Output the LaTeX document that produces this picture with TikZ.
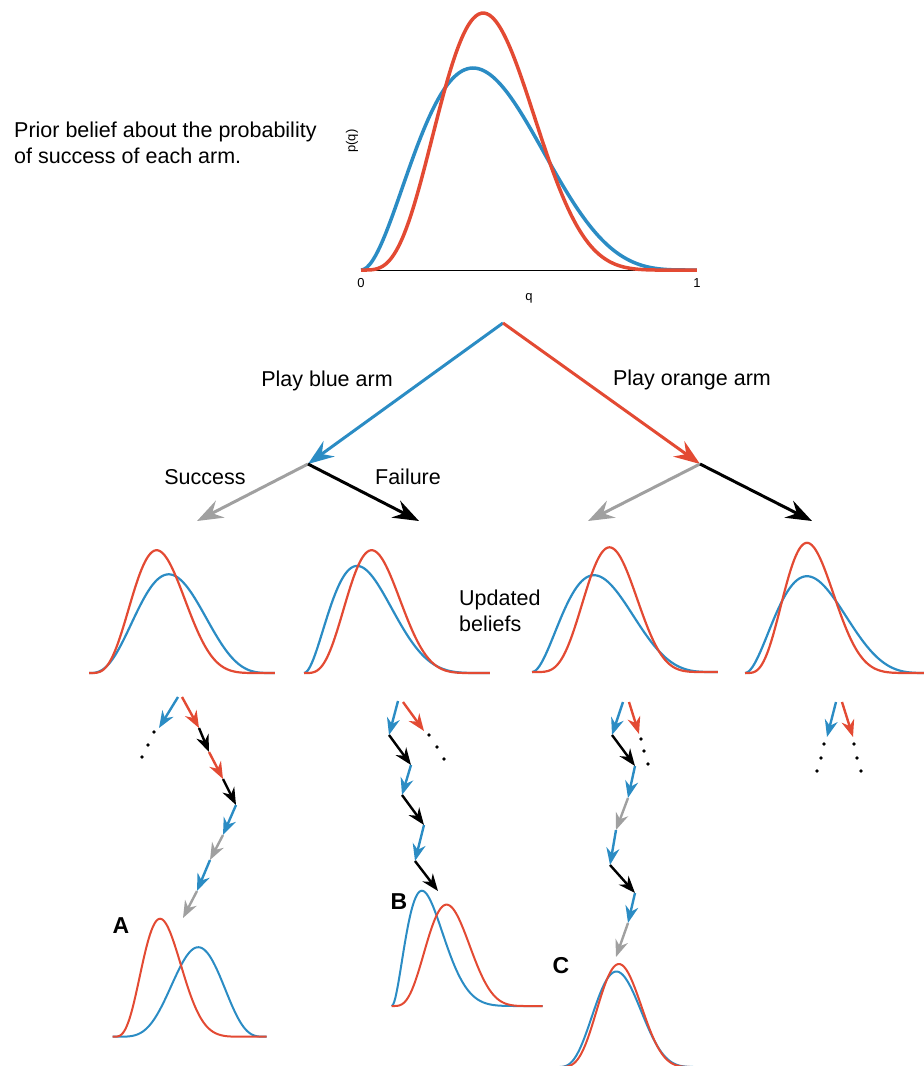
\documentclass[tikz,border=0pt]{standalone}
\usepackage{fontspec}
\setmainfont{Liberation Sans}
\usepackage{tikz}
\usetikzlibrary{arrows.meta}

\definecolor{armblue}{RGB}{43,140,196}
\definecolor{armred}{RGB}{227,74,51}
\definecolor{outgray}{RGB}{160,160,160}

% belief curve: colour, left, base, width, peak height, alpha-1, beta-1, line width
\newcommand{\belief}[8]{%
  \draw[#1, line width=#8] plot[domain=0:1, samples=121, smooth]
    ({#2+#4*\x}, {#3-#5*(\x*(#6+#7)/#6)^#6*((1-\x)*(#6+#7)/#7)^#7});
}

\begin{document}
\begin{tikzpicture}[x=1pt, y=-1pt,
  txt/.style={font=\fontsize{21.5}{26}\selectfont, align=left, inner sep=0pt},
  tick/.style={font=\fontsize{13}{15}\selectfont, inner sep=0pt},
  panel/.style={font=\fontsize{23}{26}\selectfont\bfseries, inner sep=0pt},
  branch/.style={line width=3pt, -{Stealth[length=26pt, width=19pt, inset=9pt]}},
  move/.style={line width=2.4pt, -{Stealth[length=17pt, width=13pt, inset=5.5pt]}},
  dot/.style={circle, fill=black, inner sep=0pt, minimum size=3.8pt}
]
\useasboundingbox (0,0) rectangle (924,1066);
\clip (0,0) rectangle (924,1066);

% Prior belief
\node[txt, anchor=west] (prior) at (14,143) {Prior belief about the probability\\of success of each arm.};
\coordinate (q0) at (361,270);
\coordinate (q1) at (697,270);
\draw[line width=1pt] (q0) -- (q1);
\node[tick] (tick0) at (361,283) {0};
\node[tick] (tick1) at (697,283) {1};
\node[tick] (xlab) at (529,298) {q};
\node[tick, rotate=90] (ylab) at (352,141) {p(q)};
\belief{armblue}{361}{270}{336}{202}{2}{4}{3.5pt}
\belief{armred}{361}{270}{336}{257}{4}{7}{3.5pt}

% First choice
\coordinate (root) at (503,323);
\coordinate (bluearm) at (308,464);
\coordinate (orangearm) at (700,464);
\draw[branch, armblue] (root) -- (bluearm);
\draw[branch, armred] (root) -- (orangearm);
\node[txt] (playblue) at (327,381) {Play blue arm};
\node[txt] (playorange) at (692,380) {Play orange arm};

% Outcomes
\coordinate (bsucc) at (197,521);
\coordinate (bfail) at (419,521);
\coordinate (osucc) at (588,521);
\coordinate (ofail) at (812,521);
\draw[branch, outgray] (bluearm) -- (bsucc);
\draw[branch, black] (bluearm) -- (bfail);
\draw[branch, outgray] (orangearm) -- (osucc);
\draw[branch, black] (orangearm) -- (ofail);
\node[txt] (success) at (205,477) {Success};
\node[txt] (failure) at (408,477) {Failure};

% Updated beliefs
\belief{armblue}{89}{673}{186}{98.7}{3}{4}{2.2pt}
\belief{armred}{89}{673}{186}{122.8}{4}{7}{2.2pt}
\belief{armblue}{304}{673}{186}{107.1}{2}{5}{2.2pt}
\belief{armred}{304}{673}{186}{122.8}{4}{7}{2.2pt}
\belief{armblue}{532}{672}{186}{96.8}{2}{4}{2.2pt}
\belief{armred}{532}{672}{186}{124.7}{5}{7}{2.2pt}
\belief{armblue}{745}{673}{186}{96.8}{2}{4}{2.2pt}
\belief{armred}{745}{673}{186}{130.2}{4}{8}{2.2pt}
\node[txt, anchor=west] (updated) at (459,611) {Updated\\beliefs};

% Path A
\foreach \n/\u/\v in {0/182/697, 1/199/728, 2/209/752, 3/223/779, 4/236/805,
                      5/223/835, 6/210/860, 7/197/891, 8/183/918}
  \coordinate (a\n) at (\u,\v);
\foreach \from/\to/\col in {0/1/armred, 1/2/black, 2/3/armred, 3/4/black,
                      4/5/armblue, 5/6/outgray, 6/7/armblue, 7/8/outgray}
  \draw[move, \col] (a\from) -- (a\to);
\coordinate (a0x) at (178,697);
\coordinate (a1x) at (159,728);
\draw[move, armblue] (a0x) -- (a1x);
\node[dot] (ad1) at (154,732) {};
\node[dot] (ad2) at (148,745) {};
\node[dot] (ad3) at (142,757) {};

% Path B
\foreach \n/\u/\v in {0/398/701, 1/389/735, 2/411/765, 3/402/795,
                      4/424/825, 5/415/861, 6/438/891}
  \coordinate (b\n) at (\u,\v);
\foreach \from/\to/\col in {0/1/armblue, 1/2/black, 2/3/armblue, 3/4/black, 4/5/armblue, 5/6/black}
  \draw[move, \col] (b\from) -- (b\to);
\coordinate (b0x) at (403,702);
\coordinate (b1x) at (424,731);
\draw[move, armred] (b0x) -- (b1x);
\node[dot] (bd1) at (429,735) {};
\node[dot] (bd2) at (437,747) {};
\node[dot] (bd3) at (444,759) {};

% Path C
\foreach \n/\u/\v in {0/623/702, 1/612/735, 2/635/766, 3/628/798, 4/616/830,
                      5/610/865, 6/635/893, 7/628/923, 8/616/957}
  \coordinate (c\n) at (\u,\v);
\foreach \from/\to/\col in {0/1/armblue, 1/2/black, 2/3/armblue, 3/4/outgray,
                      4/5/armblue, 5/6/black, 6/7/armblue, 7/8/outgray}
  \draw[move, \col] (c\from) -- (c\to);
\coordinate (c0x) at (629,702);
\coordinate (c1x) at (639,734);
\draw[move, armred] (c0x) -- (c1x);
\node[dot] (cd1) at (641,739) {};
\node[dot] (cd2) at (644,751) {};
\node[dot] (cd3) at (648,764) {};

% Path D
\coordinate (d0) at (836,702);
\coordinate (d1) at (827,737);
\coordinate (d0x) at (842,702);
\coordinate (d1x) at (853,737);
\draw[move, armblue] (d0) -- (d1);
\draw[move, armred] (d0x) -- (d1x);
\node[dot] (dd1) at (824,744) {};
\node[dot] (dd2) at (821,758) {};
\node[dot] (dd3) at (817,771) {};
\node[dot] (dd4) at (854,744) {};
\node[dot] (dd5) at (857,758) {};
\node[dot] (dd6) at (861,771) {};

% End beliefs
\belief{armblue}{112.7}{1036.7}{154}{89.5}{5}{4}{2pt}
\belief{armred}{112.7}{1036.7}{154}{118}{4}{9}{2pt}
\node[panel] (labA) at (121,926) {A};
\belief{armblue}{391.7}{1006}{151}{115.3}{2}{8}{2pt}
\belief{armred}{391.7}{1006}{151}{101.4}{4}{7}{2pt}
\node[panel] (labB) at (399,902) {B};
\belief{armblue}{555.6}{1067}{152}{95.5}{4}{6}{2pt}
\belief{armred}{555.6}{1067}{152}{103}{5}{7}{2pt}
\node[panel] (labC) at (561,966) {C};
\end{tikzpicture}
\end{document}
